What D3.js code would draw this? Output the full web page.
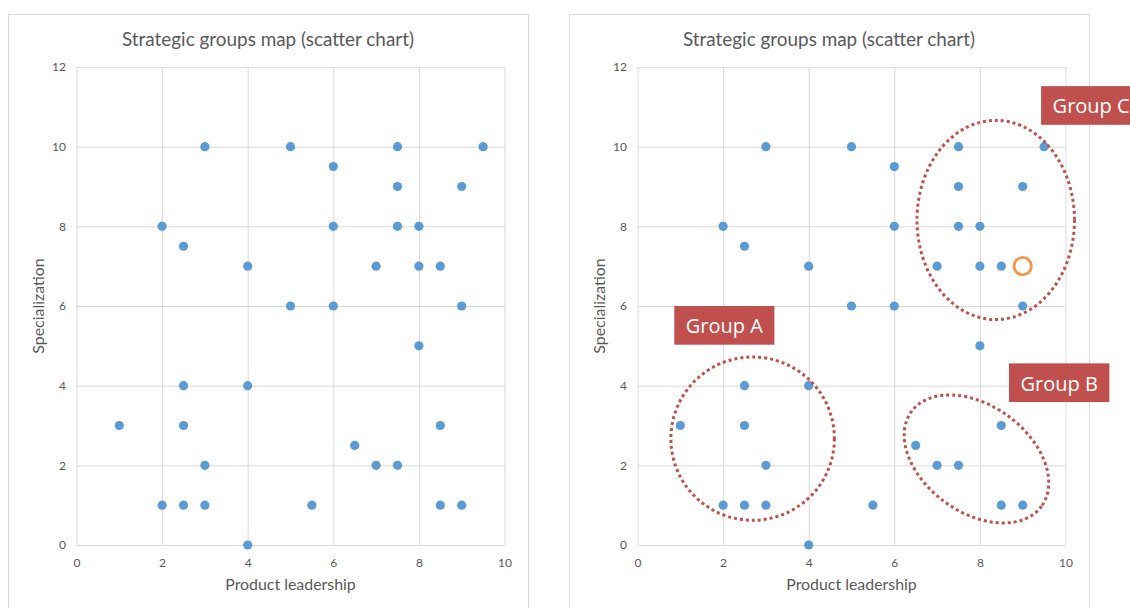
<!DOCTYPE html>
<html>
<head>
<meta charset="utf-8">
<script src="https://cdn.jsdelivr.net/npm/d3@7"></script>
<style>
  html, body { margin: 0; padding: 0; background: #fff; }
  svg { display: block; }
  text { font-family: Lato, "Noto Sans", sans-serif; fill: #595959; }
</style>
</head>
<body>
<svg id="chart" width="1130" height="608"></svg>
<script>
// Companies plotted on the strategic groups map
const productLeadership = [3, 5, 7.5, 9.5, 6, 7.5, 9, 2, 6, 7.5, 8, 2.5, 4, 7, 8, 8.5, 5, 6, 9, 8, 2.5, 4, 1, 2.5, 8.5, 6.5, 3, 7, 7.5, 2, 2.5, 3, 5.5, 8.5, 9, 4];
const specialization    = [10, 10, 10, 10, 9.5, 9, 9, 8, 8, 8, 8, 7.5, 7, 7, 7, 7, 6, 6, 6, 5, 4, 4, 3, 3, 3, 2.5, 2, 2, 2, 1, 1, 1, 1, 1, 1, 0];

// Highlighted company (open orange ring, second map only)
const highlightX = [9];
const highlightY = [7];

const xTicks = [0, 2, 4, 6, 8, 10];
const yTicks = [0, 2, 4, 6, 8, 10, 12];

// Group annotations: label, ellipse centre / semi-axes in data units, tilt in degrees
const groupNames  = ["Group A", "Group B", "Group C"];
const groupCx     = [2.69, 7.92, 8.37];
const groupCy     = [2.67, 2.16, 8.16];
const groupRx     = [1.91, 1.88, 1.84];
const groupRy     = [2.05, 1.34, 2.50];
const groupTilt   = [0, 36, 0];
const labelX      = [0.86, 8.68, 9.43];
const labelY      = [6.0, 4.56, 11.52];

const titleText = "Strategic groups map (scatter chart)";
const xTitle = "Product leadership";
const yTitle = "Specialization";

const svg = d3.select("#chart");

const chartW = 520, chartH = 620;
const plot = { left: 68.5, top: 53, width: 428, height: 478 };

function drawChart(originX, withGroups) {
  const g = svg.append("g").attr("transform", `translate(${originX},14)`);

  g.append("rect")
    .attr("x", 0.5).attr("y", 0.5)
    .attr("width", chartW).attr("height", chartH)
    .attr("fill", "#fff").attr("stroke", "#d9d9d9").attr("stroke-width", 1);

  g.append("text")
    .attr("x", chartW / 2).attr("y", 32)
    .attr("text-anchor", "middle")
    .style("font-size", "18.9px")
    .text(titleText);

  const x = d3.scaleLinear().domain([0, 10]).range([0, plot.width]);
  const y = d3.scaleLinear().domain([0, 12]).range([plot.height, 0]);

  const p = g.append("g").attr("transform", `translate(${plot.left},${plot.top})`);

  const xAxis = p.append("g")
    .attr("transform", `translate(0,${plot.height})`)
    .call(d3.axisBottom(x).tickValues(xTicks).tickSize(-plot.height).tickPadding(13));
  const yAxis = p.append("g")
    .call(d3.axisLeft(y).tickValues(yTicks).tickSize(-plot.width).tickPadding(10.5));

  [xAxis, yAxis].forEach(a => {
    a.select(".domain").remove();
    a.selectAll("line").attr("stroke", "#d9d9d9").attr("stroke-width", 1);
    a.selectAll("text").style("font-size", "12px").attr("fill", "#595959")
      .style("font-family", "Lato, 'Noto Sans', sans-serif");
  });

  g.append("text")
    .attr("x", plot.left + plot.width / 2).attr("y", 576)
    .attr("text-anchor", "middle")
    .style("font-size", "15.9px")
    .text(xTitle);

  g.append("text")
    .attr("transform", `translate(${plot.left - 32.5},${plot.top + plot.height / 2}) rotate(-90)`)
    .attr("text-anchor", "middle")
    .style("font-size", "15.9px")
    .text(yTitle);

  p.append("g").selectAll("circle")
    .data(productLeadership.map((v, i) => [v, specialization[i]]))
    .join("circle")
    .attr("cx", d => x(d[0]))
    .attr("cy", d => y(d[1]))
    .attr("r", 4.6)
    .attr("fill", "#5b9bd5");

  if (withGroups) {
    p.append("g").selectAll("circle")
      .data(highlightX.map((v, i) => [v, highlightY[i]]))
      .join("circle")
      .attr("cx", d => x(d[0]))
      .attr("cy", d => y(d[1]))
      .attr("r", 8.7)
      .attr("fill", "#fff")
      .attr("stroke", "#f79646")
      .attr("stroke-width", 2.8);

    const ux = x(1) - x(0), uy = y(0) - y(1);
    const groups = groupNames.map((name, i) => ({
      name, cx: groupCx[i], cy: groupCy[i], rx: groupRx[i], ry: groupRy[i],
      tilt: groupTilt[i], lx: labelX[i], ly: labelY[i]
    }));

    p.append("g").selectAll("ellipse")
      .data(groups)
      .join("ellipse")
      .attr("transform", d => `translate(${x(d.cx)},${y(d.cy)}) rotate(${d.tilt})`)
      .attr("rx", d => d.rx * ux)
      .attr("ry", d => d.ry * uy)
      .attr("fill", "none")
      .attr("stroke", "#c0504d")
      .attr("stroke-width", 3)
      .attr("stroke-dasharray", "3,3");

    const labels = p.append("g").selectAll("g")
      .data(groups)
      .join("g")
      .attr("transform", d => `translate(${x(d.lx)},${y(d.ly)})`);

    const txt = labels.append("text")
      .attr("x", 11.5).attr("y", 27.3)
      .style("font-family", "'Open Sans', sans-serif")
      .style("font-size", "20px")
      .attr("fill", "#fff")
      .style("fill", "#fff")
      .text(d => d.name);

    txt.each(function () {
      const w = this.getComputedTextLength();
      d3.select(this.parentNode).insert("rect", "text")
        .attr("width", w + 23).attr("height", 38.7)
        .attr("fill", "#c0504d");
    });
  }
}

drawChart(8, false);
drawChart(569, true);
</script>
</body>
</html>
